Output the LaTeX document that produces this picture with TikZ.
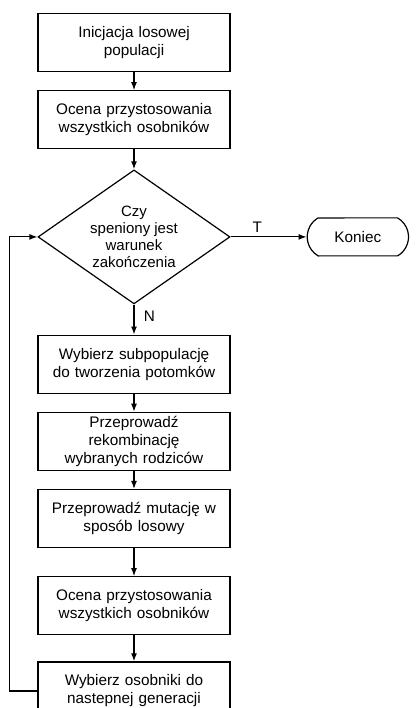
\documentclass[tikz,border=0pt]{standalone}
\usepackage{fontspec}
\setmainfont{Liberation Sans}
\usetikzlibrary{shapes.geometric, shapes.misc, arrows.meta, positioning}

\begin{document}
\begin{tikzpicture}[
  x=1pt, y=1pt,
  font=\fontsize{15.3pt}{18pt}\selectfont,
  node distance = 18pt,
  stepbox/.style = {rectangle, draw, line width=1.2pt, text width=186pt, align=center,
                    minimum width=192pt, minimum height=58pt, inner sep=3pt},
  decide/.style  = {diamond, draw, line width=1.2pt, align=center, aspect=1.4,
                    minimum width=192pt, minimum height=134pt, inner sep=0pt,
                    font=\fontsize{15pt}{17pt}\selectfont},
  stop/.style    = {rounded rectangle, rounded rectangle arc length=120, draw,
                    line width=1.2pt, minimum width=108pt, minimum height=38pt},
  arr/.style     = {-{Latex[length=8pt,width=6pt]}, line width=1.2pt},
]

\useasboundingbox (0,0) rectangle (415,-708);

%% ── Main chain ────────────────────────────────────────────────────
\node[stepbox] (init) at (134,-42.5) {Inicjacja losowej\\populacji};
\node[stepbox, below=of init] (eval1) {Ocena przystosowania\\wszystkich osobników};
\node[decide, below=20pt of eval1] (dec)
    {Czy\\speniony jest\\warunek\\zakończenia};
\node[stop, right=76pt of dec] (end) {Koniec};

%% ── Loop body ─────────────────────────────────────────────────────
\node[stepbox, below=30pt of dec] (subpop)
    {Wybierz subpopulację\\do tworzenia potomków};
\node[stepbox, below=of subpop] (recomb)
    {Przeprowadź\\rekombinację\\wybranych rodziców};
\node[stepbox, below=of recomb] (mutate)
    {Przeprowadź mutację w\\sposób losowy};
\node[stepbox, below=28pt of mutate] (eval2)
    {Ocena przystosowania\\wszystkich osobników};
\node[stepbox, below=26pt of eval2] (select)
    {Wybierz osobniki do\\nastepnej generacji};

%% ── Arrows ────────────────────────────────────────────────────────
\draw[arr] (init)  -- (eval1);
\draw[arr] (eval1) -- (dec);
\draw[arr] (dec)   -- node[above, pos=0.35]{T} (end);
\draw[arr] (dec)   -- node[right, pos=0.4, xshift=6pt]{N} (subpop);
\draw[arr] (subpop) -- (recomb);
\draw[arr] (recomb) -- (mutate);
\draw[arr] (mutate) -- (eval2);
\draw[arr] (eval2)  -- (select);
\draw[arr] (select.west) -- ++(-28,0) |- (dec.west);

\end{tikzpicture}
\end{document}
